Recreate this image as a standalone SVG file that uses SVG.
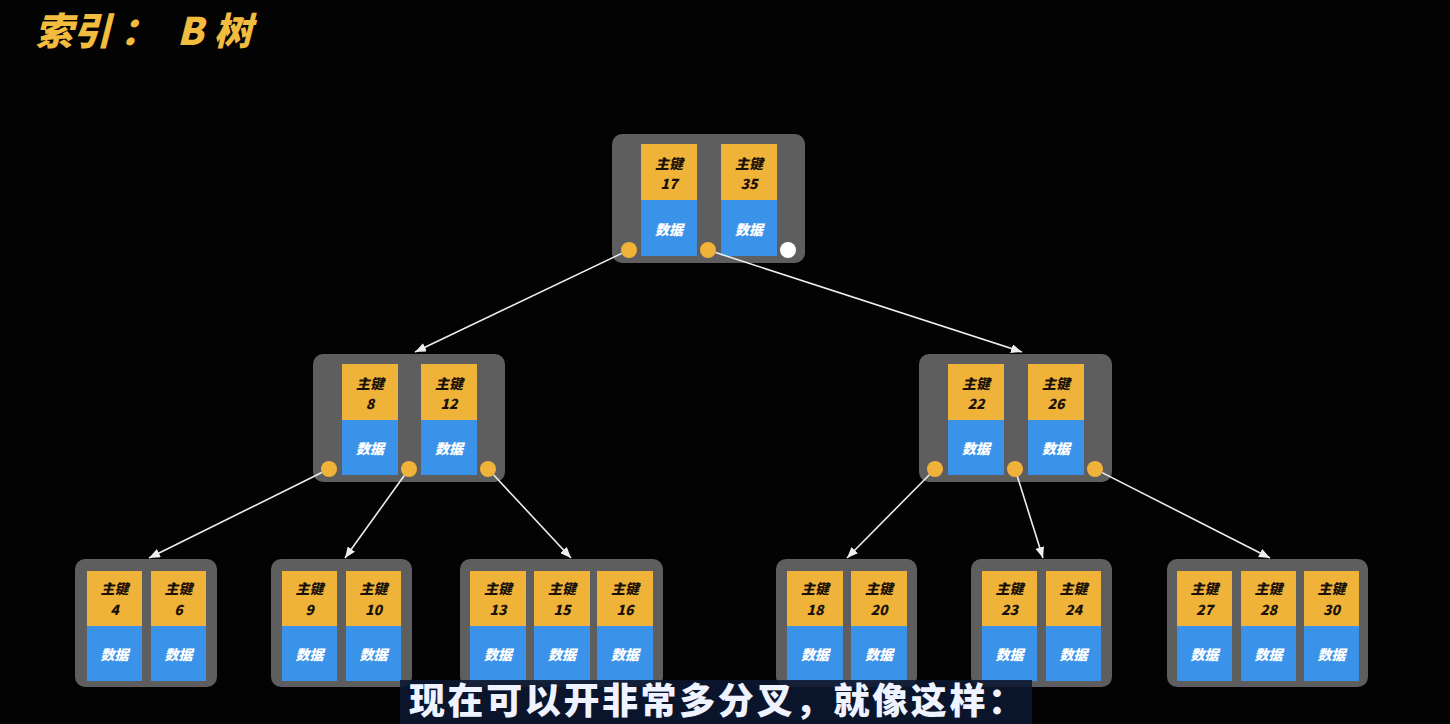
<svg xmlns="http://www.w3.org/2000/svg" width="1450" height="724" viewBox="0 0 1450 724">
<defs>
<style>
.box{fill:#5e5e5e}
.key{fill:#f0b33a}
.dat{fill:#3b93e9}
.dot{fill:#f0b33a}
.wdot{fill:#ffffff}
.t{font-family:"Noto Sans CJK SC","Noto Sans",sans-serif;font-weight:900;font-style:italic;text-anchor:middle}
.k{font-size:14px;fill:#1a1208}
.n{font-size:14px;fill:#1a1208}
.d{font-size:14px;fill:#ffffff}
.edge{stroke:#eeeeee;stroke-width:1.6;fill:none;marker-end:url(#ah)}
</style>
<marker id="ah" markerWidth="11" markerHeight="9" refX="11" refY="4.5" orient="auto" markerUnits="userSpaceOnUse">
<path d="M0,0 L11,4.5 L0,9 z" fill="#eeeeee"/>
</marker>
</defs>
<rect width="1450" height="724" fill="#030303"/>
<text x="35" y="45" font-family="Noto Sans CJK SC,sans-serif" font-size="38" font-weight="900" font-style="italic" fill="#f2bc3f">索引<tspan x="120">：</tspan><tspan x="177">B</tspan><tspan x="214">树</tspan></text>

<g id="root">
<rect class="box" x="612" y="134" width="193" height="129" rx="10"/>
<rect class="key" x="641" y="144" width="56" height="56"/><rect class="dat" x="641" y="200" width="56" height="56"/>
<rect class="key" x="721" y="144" width="56" height="56"/><rect class="dat" x="721" y="200" width="56" height="56"/>
<text class="t k" x="669" y="169">主键</text><text class="t n" x="669" y="189">17</text><text class="t d" x="669" y="235">数据</text>
<text class="t k" x="749" y="169">主键</text><text class="t n" x="749" y="189">35</text><text class="t d" x="749" y="235">数据</text>
<circle class="dot" cx="629" cy="250" r="8"/><circle class="dot" cx="708" cy="250" r="8"/><circle class="wdot" cx="788" cy="250" r="8"/>
</g>

<g id="mid-left">
<rect class="box" x="313" y="354" width="192" height="128" rx="10"/>
<rect class="key" x="342" y="364" width="56" height="56"/><rect class="dat" x="342" y="420" width="56" height="55"/>
<rect class="key" x="421" y="364" width="56" height="56"/><rect class="dat" x="421" y="420" width="56" height="55"/>
<text class="t k" x="370" y="389">主键</text><text class="t n" x="370" y="409">8</text><text class="t d" x="370" y="454">数据</text>
<text class="t k" x="449" y="389">主键</text><text class="t n" x="449" y="409">12</text><text class="t d" x="449" y="454">数据</text>
<circle class="dot" cx="329" cy="469" r="8"/><circle class="dot" cx="409" cy="469" r="8"/><circle class="dot" cx="488" cy="469" r="8"/>
</g>

<g id="mid-right">
<rect class="box" x="919" y="354" width="193" height="128" rx="10"/>
<rect class="key" x="948" y="364" width="56" height="56"/><rect class="dat" x="948" y="420" width="56" height="55"/>
<rect class="key" x="1028" y="364" width="56" height="56"/><rect class="dat" x="1028" y="420" width="56" height="55"/>
<text class="t k" x="976" y="389">主键</text><text class="t n" x="976" y="409">22</text><text class="t d" x="976" y="454">数据</text>
<text class="t k" x="1056" y="389">主键</text><text class="t n" x="1056" y="409">26</text><text class="t d" x="1056" y="454">数据</text>
<circle class="dot" cx="935" cy="469" r="8"/><circle class="dot" cx="1015" cy="469" r="8"/><circle class="dot" cx="1095" cy="469" r="8"/>
</g>

<g id="leaf-4-6">
<rect class="box" x="75" y="559" width="142" height="128" rx="10"/>
<rect class="key" x="87" y="571" width="55" height="55"/><rect class="dat" x="87" y="626" width="55" height="55"/>
<rect class="key" x="151" y="571" width="55" height="55"/><rect class="dat" x="151" y="626" width="55" height="55"/>
<text class="t k" x="114.5" y="594">主键</text><text class="t n" x="114.5" y="615">4</text><text class="t d" x="114.5" y="660">数据</text>
<text class="t k" x="178.5" y="594">主键</text><text class="t n" x="178.5" y="615">6</text><text class="t d" x="178.5" y="660">数据</text>
</g>

<g id="leaf-9-10">
<rect class="box" x="271" y="559" width="141" height="128" rx="10"/>
<rect class="key" x="282" y="571" width="55" height="55"/><rect class="dat" x="282" y="626" width="55" height="55"/>
<rect class="key" x="346" y="571" width="55" height="55"/><rect class="dat" x="346" y="626" width="55" height="55"/>
<text class="t k" x="309.5" y="594">主键</text><text class="t n" x="309.5" y="615">9</text><text class="t d" x="309.5" y="660">数据</text>
<text class="t k" x="373.5" y="594">主键</text><text class="t n" x="373.5" y="615">10</text><text class="t d" x="373.5" y="660">数据</text>
</g>

<g id="leaf-13-16">
<rect class="box" x="460" y="559" width="203" height="128" rx="10"/>
<rect class="key" x="470" y="571" width="56" height="55"/><rect class="dat" x="470" y="626" width="56" height="55"/>
<rect class="key" x="534" y="571" width="56" height="55"/><rect class="dat" x="534" y="626" width="56" height="55"/>
<rect class="key" x="597" y="571" width="56" height="55"/><rect class="dat" x="597" y="626" width="56" height="55"/>
<text class="t k" x="498" y="594">主键</text><text class="t n" x="498" y="615">13</text><text class="t d" x="498" y="660">数据</text>
<text class="t k" x="562" y="594">主键</text><text class="t n" x="562" y="615">15</text><text class="t d" x="562" y="660">数据</text>
<text class="t k" x="625" y="594">主键</text><text class="t n" x="625" y="615">16</text><text class="t d" x="625" y="660">数据</text>
</g>

<g id="leaf-18-20">
<rect class="box" x="776" y="559" width="141" height="128" rx="10"/>
<rect class="key" x="787" y="571" width="56" height="55"/><rect class="dat" x="787" y="626" width="56" height="55"/>
<rect class="key" x="851" y="571" width="56" height="55"/><rect class="dat" x="851" y="626" width="56" height="55"/>
<text class="t k" x="815" y="594">主键</text><text class="t n" x="815" y="615">18</text><text class="t d" x="815" y="660">数据</text>
<text class="t k" x="879" y="594">主键</text><text class="t n" x="879" y="615">20</text><text class="t d" x="879" y="660">数据</text>
</g>

<g id="leaf-23-24">
<rect class="box" x="971" y="559" width="141" height="128" rx="10"/>
<rect class="key" x="982" y="571" width="55" height="55"/><rect class="dat" x="982" y="626" width="55" height="55"/>
<rect class="key" x="1046" y="571" width="55" height="55"/><rect class="dat" x="1046" y="626" width="55" height="55"/>
<text class="t k" x="1009.5" y="594">主键</text><text class="t n" x="1009.5" y="615">23</text><text class="t d" x="1009.5" y="660">数据</text>
<text class="t k" x="1073.5" y="594">主键</text><text class="t n" x="1073.5" y="615">24</text><text class="t d" x="1073.5" y="660">数据</text>
</g>

<g id="leaf-27-30">
<rect class="box" x="1167" y="559" width="201" height="128" rx="10"/>
<rect class="key" x="1177" y="571" width="55" height="55"/><rect class="dat" x="1177" y="626" width="55" height="55"/>
<rect class="key" x="1241" y="571" width="55" height="55"/><rect class="dat" x="1241" y="626" width="55" height="55"/>
<rect class="key" x="1304" y="571" width="55" height="55"/><rect class="dat" x="1304" y="626" width="55" height="55"/>
<text class="t k" x="1204.5" y="594">主键</text><text class="t n" x="1204.5" y="615">27</text><text class="t d" x="1204.5" y="660">数据</text>
<text class="t k" x="1268.5" y="594">主键</text><text class="t n" x="1268.5" y="615">28</text><text class="t d" x="1268.5" y="660">数据</text>
<text class="t k" x="1331.5" y="594">主键</text><text class="t n" x="1331.5" y="615">30</text><text class="t d" x="1331.5" y="660">数据</text>
</g>

<g id="connectors">
<line class="edge" x1="621.8" y1="253.4" x2="415" y2="352"/>
<line class="edge" x1="715.6" y1="252.5" x2="1022" y2="352"/>
<line class="edge" x1="321.8" y1="472.5" x2="149" y2="558"/>
<line class="edge" x1="404.3" y1="475.5" x2="345" y2="558"/>
<line class="edge" x1="493.5" y1="474.8" x2="571" y2="558"/>
<line class="edge" x1="929.4" y1="474.7" x2="847" y2="558"/>
<line class="edge" x1="1017.4" y1="476.6" x2="1043" y2="558"/>
<line class="edge" x1="1102.1" y1="472.6" x2="1270" y2="558"/>
</g>

<g id="subtitle">
<rect x="400" y="680" width="632" height="44" fill="#0b1730" fill-opacity="0.88"/>
<text x="409" y="714" font-family="Noto Sans CJK SC,sans-serif" font-size="36" font-weight="900" fill="#eef3ff" letter-spacing="2.6">现在可以开非常多分叉，就像这样：</text>
</g>
</svg>
